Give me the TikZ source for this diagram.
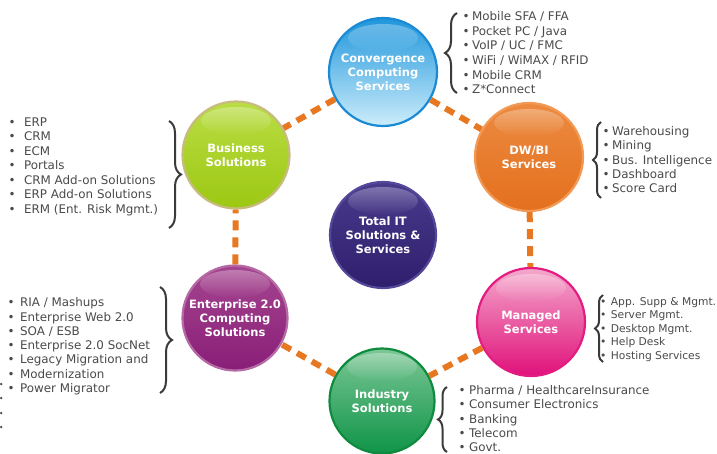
\documentclass[tikz,border=0pt]{standalone}
\usepackage{fontspec}
\setmainfont{DejaVu Sans}
\usetikzlibrary{decorations.pathreplacing,fadings,calc}
\definecolor{txtgray}{HTML}{4A4A4A}
\definecolor{bracegray}{HTML}{3A3A3A}
\definecolor{dashorange}{HTML}{E87722}
\definecolor{convT}{HTML}{1E96DC}
\definecolor{convB}{HTML}{CDEDFB}
\definecolor{convD}{HTML}{1A8AD4}
\definecolor{busT}{HTML}{BADD44}
\definecolor{busB}{HTML}{9CC812}
\definecolor{busD}{HTML}{C8BB80}
\definecolor{dwT}{HTML}{EC8A40}
\definecolor{dwB}{HTML}{E4701E}
\definecolor{dwD}{HTML}{F29A55}
\definecolor{manT}{HTML}{F4A8CC}
\definecolor{manB}{HTML}{E0117A}
\definecolor{manD}{HTML}{E31C82}
\definecolor{indT}{HTML}{7CC796}
\definecolor{indB}{HTML}{0F9448}
\definecolor{indD}{HTML}{0E8B3E}
\definecolor{entT}{HTML}{A5458F}
\definecolor{entB}{HTML}{891E78}
\definecolor{entD}{HTML}{B56AA6}
\definecolor{cenT}{HTML}{4A3A8C}
\definecolor{cenB}{HTML}{2E1E6C}
\definecolor{cenD}{HTML}{55479A}
\begin{document}
\begin{tikzpicture}[x=1pt,y=-1pt,
  ball/.style={circle, minimum size=#1, inner sep=0pt, line width=2.2pt, align=center,
    text=white, font=\bfseries\fontsize{11.5}{14}\selectfont},
  conn/.style={draw=dashorange, line width=6pt, dash pattern=on 10pt off 7pt},
  brc/.style={decorate, decoration={brace, amplitude=#1}, draw=bracegray, line width=2pt},
  lst/.style={anchor=north west, inner sep=0pt, align=left, text=txtgray},
  gloss/.style={fill=white, fill opacity=0.3, path fading=south}]
\useasboundingbox (0,0) rectangle (717,454);

% circles
\node[ball=108pt, draw=convD, top color=convT, bottom color=convB] (conv) at (383,72) {Convergence\\Computing\\Services};
\node[ball=107pt, draw=busD, top color=busT, bottom color=busB] (bus) at (236,155) {Business\\Solutions};
\node[ball=108pt, draw=dwD, top color=dwT, bottom color=dwB] (dw) at (529,157) {DW/BI\\Services};
\node[ball=108pt, draw=manD, top color=manT, bottom color=manB] (man) at (531,322) {Managed\\Services};
\node[ball=105pt, draw=indD, top color=indT, bottom color=indB] (ind) at (382,401) {Industry\\Solutions};
\node[ball=105pt, draw=entD, top color=entT, bottom color=entB] (ent) at (235,318) {Enterprise 2.0\\Computing\\Solutions};
\node[ball=106pt, draw=cenD, top color=cenT, bottom color=cenB] (cen) at (383,235) {Total IT\\Solutions \&\\Services};

% gloss
\foreach \n in {conv,bus,dw,man,ind,ent,cen}{
  \fill[gloss] ($(\n.center)+(0,-34)$) ellipse [x radius=35pt, y radius=14pt];
}

% connectors
\draw[conn] (conv) -- (bus);
\draw[conn] (conv) -- (dw);
\draw[conn] (dw) -- (man);
\draw[conn] (man) -- (ind);
\draw[conn] (ind) -- (ent);
\draw[conn] (ent) -- (bus);

% lists
\node[lst, font=\fontsize{11.9}{14.6}\selectfont] (lconv) at (462.5,11.5) {•\hspace{2.4pt}Mobile SFA / FFA\\•\hspace{2.4pt}Pocket PC / Java\\•\hspace{2.4pt}VoIP / UC / FMC\\•\hspace{2.4pt}WiFi / WiMAX / RFID\\•\hspace{2.4pt}Mobile CRM\\•\hspace{2.4pt}Z*Connect};
\node[lst, font=\fontsize{11.9}{14.25}\selectfont] (ldw) at (602.5,126.5) {•\hspace{2.4pt}Warehousing\\•\hspace{2.4pt}Mining\\•\hspace{2.4pt}Bus. Intelligence\\•\hspace{2.4pt}Dashboard\\•\hspace{2.4pt}Score Card};
\node[lst, font=\fontsize{10.7}{13.5}\selectfont] (lman) at (600,297) {•\hspace{4.4pt}App. Supp \& Mgmt.\\•\hspace{4.4pt}Server Mgmt.\\•\hspace{4.4pt}Desktop Mgmt.\\•\hspace{4.4pt}Help Desk\\•\hspace{4.4pt}Hosting Services};
\node[lst, font=\fontsize{11.9}{14.25}\selectfont] (lind) at (458.5,385.5) {•\hspace{3.4pt}Pharma / HealthcareInsurance\\•\hspace{3.4pt}Consumer Electronics\\•\hspace{3.4pt}Banking\\•\hspace{3.4pt}Telecom\\•\hspace{3.4pt}Govt.};
\node[lst, font=\fontsize{11.9}{14.5}\selectfont] (lbus) at (8.5,117.5) {•\hspace{8.4pt}ERP\\•\hspace{8.4pt}CRM\\•\hspace{8.4pt}ECM\\•\hspace{8.4pt}Portals\\•\hspace{8.4pt}CRM Add-on Solutions\\•\hspace{8.4pt}ERP Add-on Solutions\\•\hspace{8.4pt}ERM (Ent. Risk Mgmt.)};
\node[lst, font=\fontsize{11.9}{14.3}\selectfont] (lent) at (7.5,297.5) {•\hspace{5.4pt}RIA / Mashups\\•\hspace{5.4pt}Enterprise Web 2.0\\•\hspace{5.4pt}SOA / ESB\\•\hspace{5.4pt}Enterprise 2.0 SocNet\\•\hspace{5.4pt}Legacy Migration and\\•\hspace{5.4pt}Modernization\\•\hspace{5.4pt}Power Migrator};

% stray bullets
\foreach \yy in {384,398,413,427}{\fill[txtgray] (1.2,\yy) circle (1.3pt);}

% braces
\draw[brc=12pt] (457,93) -- (457,13);
\draw[brc=8pt] (601,198) -- (601,122);
\draw[brc=8pt] (603,362) -- (603,295);
\draw[brc=9pt] (447,452) -- (447,387);
\draw[brc=12pt] (169,121) -- (169,228);
\draw[brc=12pt] (160,287) -- (160,393);
\end{tikzpicture}
\end{document}
